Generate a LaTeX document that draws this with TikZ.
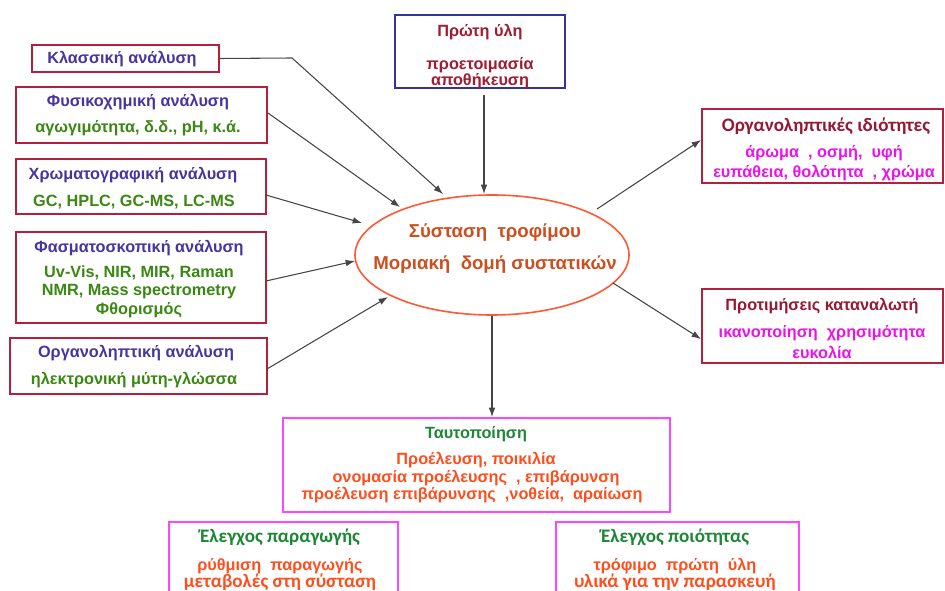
\documentclass[tikz,border=0pt]{standalone}
\usepackage{fontspec}
\setmainfont{Liberation Sans}
\newfontfamily\carl{Carlito}
\usetikzlibrary{shapes.geometric,arrows.meta,fit}
\definecolor{boxred}{RGB}{178,32,62}
\definecolor{tblue}{RGB}{72,52,160}
\definecolor{tgreen}{RGB}{58,135,18}
\definecolor{pblue}{RGB}{52,52,150}
\definecolor{pred}{RGB}{160,28,48}
\definecolor{maroon}{RGB}{150,24,50}
\definecolor{mag}{RGB}{235,18,235}
\definecolor{ellc}{RGB}{255,88,52}
\definecolor{elltext}{RGB}{205,78,30}
\definecolor{pinkb}{RGB}{255,70,255}
\definecolor{dgreen}{RGB}{30,135,55}
\definecolor{ored}{RGB}{255,78,30}
\definecolor{arr}{RGB}{70,70,70}
\begin{document}
\begin{tikzpicture}[x=0.75pt,y=-0.75pt,
  lbox/.style={draw=boxred,line width=1.4pt,inner sep=0pt,fill=none},
  bbox/.style={draw=pblue,line width=1.2pt,inner sep=0pt},
  pbox/.style={draw=pinkb,line width=1.4pt,inner sep=0pt},
  tx/.style={inner sep=0pt,font=\fontsize{12.2}{14}\selectfont\bfseries},
  cx/.style={inner sep=0pt,font=\fontsize{14.3}{16}\selectfont\carl\bfseries},
  con/.style={draw=arr,line width=0.8pt,-{Latex[length=7pt,width=5pt]}}]
\clip (0,0) rectangle (945,591);
\fill[white] (0,0) rectangle (945,591);
% left boxes
\node[lbox,fit={(32,45) (219,72)}] (b1) {};
\node[lbox,fit={(16,87) (267,143)}] (b2) {};
\node[lbox,fit={(16,159) (266,214)}] (b3) {};
\node[lbox,fit={(16,232) (266,323)}] (b4) {};
\node[lbox,fit={(10,338) (267,394)}] (b5) {};
\node[tx,text=tblue] (t1) at (122,59) {Κλασσική ανάλυση};
\node[tx,text=tblue] (t2a) at (138,102) {Φυσικοχημική ανάλυση};
\node[tx,text=tgreen] (t2b) at (138,128) {αγωγιμότητα, δ.δ., pH, κ.ά.};
\node[tx,text=tblue] (t3a) at (133,175) {Χρωματογραφική ανάλυση};
\node[tx,text=tgreen] (t3b) at (134,202) {GC, HPLC, GC-MS, LC-MS};
\node[tx,text=tblue] (t4a) at (139,248) {Φασματοσκοπική ανάλυση};
\node[tx,text=tgreen] (t4b) at (139,273) {Uv-Vis, NIR, MIR, Raman};
\node[tx,text=tgreen] (t4c) at (139,292) {NMR, Mass spectrometry};
\node[tx,text=tgreen] (t4d) at (139,310) {Φθορισμός};
\node[tx,text=tblue] (t5a) at (136,353) {Οργανοληπτική ανάλυση};
\node[tx,text=tgreen] (t5b) at (134,380) {ηλεκτρονική μύτη-γλώσσα};
% top box
\node[bbox,fit={(395,15) (565,88)}] (bp) {};
\node[tx,text=pred] (tpa) at (480,32) {Πρώτη ύλη};
\node[tx,text=pred] (tpb) at (480,65) {προετοιμασία};
\node[tx,text=pred] (tpc) at (480,81) {αποθήκευση};
% right boxes
\node[lbox,fit={(702,109) (943,183)}] (br1) {};
\node[cx,text=maroon] (tr1a) at (826,126) {Οργανοληπτικές ιδιότητες};
\node[tx,text=mag] (tr1b) at (824,153) {άρωμα\ \ , οσμή,\ \ υφή};
\node[tx,text=mag] (tr1c) at (824,173) {ευπάθεια, θολότητα\ \ , χρώμα};
\node[lbox,fit={(702,289) (943,363)}] (br2) {};
\node[tx,text=maroon] (tr2a) at (822,306) {Προτιμήσεις καταναλωτή};
\node[tx,text=mag] (tr2b) at (822,333) {ικανοποίηση\ \ χρησιμότητα};
\node[tx,text=mag] (tr2c) at (822,352) {ευκολία};
% ellipse
\node[ellipse,draw=ellc,line width=1.2pt,minimum width=274*0.75pt,minimum height=120*0.75pt,inner sep=0pt] (ell) at (492,255) {};
\node[tx,text=elltext,font=\fontsize{14}{16}\selectfont\bfseries] (tea) at (495,233) {Σύσταση\ \ τροφίμου};
\node[tx,text=elltext,font=\fontsize{14}{16}\selectfont\bfseries] (teb) at (495,265) {Μοριακή\ \ δομή συστατικών};
% bottom boxes
\node[pbox,fit={(283,418) (670,512)}] (bt) {};
\node[tx,text=dgreen] (tta) at (476,434) {Ταυτοποίηση};
\node[tx,text=ored] (ttb) at (476,460) {Προέλευση, ποικιλία};
\node[tx,text=ored] (ttc) at (476,478) {ονομασία προέλευσης\ \ , επιβάρυνση};
\node[tx,text=ored] (ttd) at (472,495) {προέλευση επιβάρυνσης\ \ ,νοθεία,\ \ αραίωση};
\node[pbox,fit={(169,522) (398,610)}] (bq1) {};
\node[cx,text=dgreen] (tq1a) at (280,537) {Έλεγχος παραγωγής};
\node[tx,text=ored] (tq1b) at (280,566) {ρύθμιση\ \ παραγωγής};
\node[cx,text=ored] (tq1c) at (280,582) {μεταβολές στη σύσταση};
\node[pbox,fit={(556,522) (799,610)}] (bq2) {};
\node[cx,text=dgreen] (tq2a) at (675,537) {Έλεγχος ποιότητας};
\node[tx,text=ored] (tq2b) at (675,566) {τρόφιμο\ \ πρώτη\ \ ύλη};
\node[cx,text=ored] (tq2c) at (675,582) {υλικά για την παρασκευή};
% connector endpoints
\coordinate (k1) at (292,58);
\coordinate (e1) at (443,194);
\coordinate (e2) at (400,207);
\coordinate (e3) at (362,223);
\coordinate (e4) at (355,261);
\coordinate (e5) at (388,297);
\coordinate (s6) at (597,209);
\coordinate (s7) at (613,283);
\coordinate (p0) at (484,95);
\coordinate (e0) at (484,194);
\coordinate (s2) at (268,113);
\coordinate (s3) at (266,195);
\coordinate (s4) at (266,281);
\coordinate (s5) at (267,369);
\coordinate (e6) at (701,140);
\coordinate (e7) at (701,339);
% connectors
\draw[con] (b1.east) -- (k1) -- (e1);
\draw[con] (s2) -- (e2);
\draw[con] (s3) -- (e3);
\draw[con] (s4) -- (e4);
\draw[con] (s5) -- (e5);
\draw[con] (p0) -- (e0);
\draw[con] (s6) -- (e6);
\draw[con] (s7) -- (e7);
\draw[con] (ell.south) -- (ell.south |- bt.north);
\end{tikzpicture}
\end{document}
